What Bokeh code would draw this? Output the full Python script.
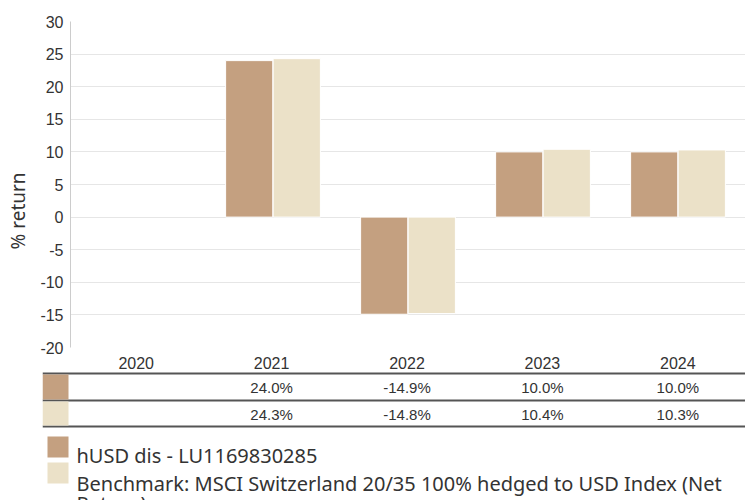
from bokeh.plotting import figure
from bokeh.layouts import column
from bokeh.models import ColumnDataSource, Range1d, FactorRange, FixedTicker, Title, CustomJSTickFormatter
from bokeh.transform import dodge
from bokeh.core.properties import value
from bokeh.embed import file_html
from bokeh.resources import INLINE
import math

# ---------------- data ----------------
years = ["2020", "2021", "2022", "2023", "2024"]
fund = [math.nan, 24.0, -14.9, 10.0, 10.0]
bench = [math.nan, 24.3, -14.8, 10.4, 10.3]
fund_labels = ["", "24.0%", "-14.9%", "10.0%", "10.0%"]
bench_labels = ["", "24.3%", "-14.8%", "10.4%", "10.3%"]
y_ticks = [-20, -15, -10, -5, 0, 5, 10, 15, 20, 25, 30]
fund_name = "hUSD dis - LU1169830285"
bench_name_1 = "Benchmark: MSCI Switzerland 20/35 100% hedged to USD Index (Net"
bench_name_2 = "Return)"
y_title = "% return"

FUND_C = "#C4A080"
BENCH_C = "#EBE1C8"
TXT = "#333333"

# page geometry (pixels in the picture)
ORIG = 1
W = 745
FRAME_L, FRAME_T, FRAME_B = 69, 22, 348
FIG1_B = 357
PAGE_B = 501

# ---------------- main chart ----------------
src = ColumnDataSource(dict(year=years, fund=fund, bench=bench))

p = figure(x_range=FactorRange(*years), y_range=Range1d(-20, 30),
           width=W, height=FIG1_B - ORIG, output_backend="svg", toolbar_location=None,
           min_border_top=FRAME_T - ORIG, min_border_left=FRAME_L - ORIG, min_border_right=0,
           min_border_bottom=FIG1_B - FRAME_B, x_axis_location=None)
p.frame_align = False
p.outline_line_color = None
p.background_fill_color = "white"
p.border_fill_color = "white"

p.vbar(x=dodge("year", -0.176, range=p.x_range), top="fund", bottom=0, width=0.35,
       source=src, fill_color=FUND_C, line_color="white", line_width=1)
p.vbar(x=dodge("year", 0.176, range=p.x_range), top="bench", bottom=0, width=0.35,
       source=src, fill_color=BENCH_C, line_color="white", line_width=1)

p.xgrid.grid_line_color = None
p.ygrid.grid_line_color = "#e6e6e6"
p.ygrid.ticker = FixedTicker(ticks=y_ticks)
p.yaxis.ticker = FixedTicker(ticks=y_ticks)
p.yaxis.formatter = CustomJSTickFormatter(code="return tick.toString();")
p.yaxis.axis_line_color = "#cccccc"
p.yaxis.major_tick_line_color = None
p.yaxis.minor_tick_line_color = None
p.yaxis.major_tick_out = 0
p.yaxis.major_tick_in = 0
p.yaxis.major_label_standoff = 7
p.yaxis.major_label_text_font = "Liberation Sans"
p.yaxis.major_label_text_font_size = "16px"
p.yaxis.major_label_text_color = TXT

p.add_layout(Title(text=y_title, align="left", vertical_align="top",
                   offset=FRAME_B - 250, standoff=9,
                   text_font="Noto Sans", text_font_size="19px",
                   text_font_style="normal", text_color=TXT), "left")

# ---------------- table + legend ----------------
CAT_W = (ORIG + W - FRAME_L) / 5.0
TABLE_L = 43
x0 = -(FRAME_L - TABLE_L) / CAT_W
q = figure(x_range=Range1d(x0, 5), y_range=Range1d(PAGE_B, FIG1_B),
           width=W, height=PAGE_B - FIG1_B, output_backend="svg", toolbar_location=None,
           min_border_top=0, min_border_left=TABLE_L - ORIG, min_border_right=0, min_border_bottom=0,
           x_axis_location=None, y_axis_location=None)
q.frame_align = False
q.outline_line_color = None
q.grid.grid_line_color = None
q.border_fill_color = "white"

cx = [i + 0.5 for i in range(len(years))]
tsrc = ColumnDataSource(dict(x=cx, year=years, f=fund_labels, b=bench_labels))

q.text(x="x", y=363, text="year", source=tsrc, text_font=value("Liberation Sans"),
       text_font_size="16px", text_color=TXT, text_align="center", text_baseline="middle")
q.text(x="x", y=388, text="f", source=tsrc, text_font=value("Liberation Sans"),
       text_font_size="15px", text_color=TXT, text_align="center", text_baseline="middle")
q.text(x="x", y=415, text="b", source=tsrc, text_font=value("Liberation Sans"),
       text_font_size="15px", text_color=TXT, text_align="center", text_baseline="middle")

q.segment(x0=[x0] * 3, x1=[5] * 3, y0=[374, 401, 427], y1=[374, 401, 427],
          line_color="#555555", line_width=2)
q.quad(left=[x0, x0], right=[0, 0], top=[375, 402], bottom=[400, 426],
       fill_color=[FUND_C, BENCH_C], line_color=None)

# legend
lx0 = -(FRAME_L - 48) / CAT_W
q.quad(left=[lx0, lx0], right=[0, 0], top=[437, 463], bottom=[458, 484],
       fill_color=[FUND_C, BENCH_C], line_color=None)
tx = (77 - FRAME_L) / CAT_W
q.text(x=[tx, tx], y=[456, 484], text=[fund_name, bench_name_1],
       text_font=value("Noto Sans"), text_font_size="20px", text_color=TXT,
       text_align="left", text_baseline="alphabetic")
q.text(x=[tx], y=[490], text=[bench_name_2],
       text_font=value("Noto Sans"), text_font_size="20px", text_color=TXT,
       text_align="left", text_baseline="top")

layout = column(p, q, spacing=0)
open("out.html", "w").write(file_html(layout, INLINE))
